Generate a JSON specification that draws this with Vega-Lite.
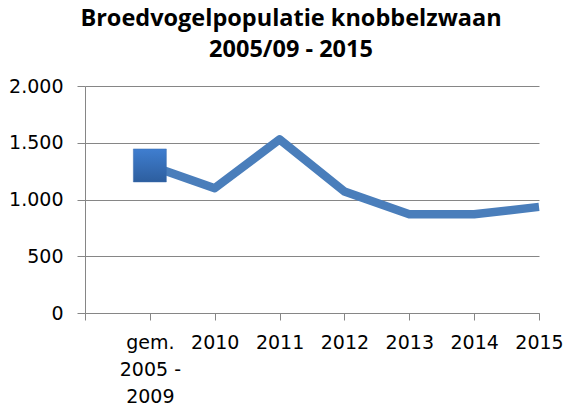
{
  "$schema": "https://vega.github.io/schema/vega-lite/v6.json",
  "autosize": "none",
  "width": 454,
  "height": 227,
  "padding": {"left": 85, "top": 86, "right": 29, "bottom": 101},
  "background": "white",
  "title": {
    "text": ["Broedvogelpopulatie knobbelzwaan", "2005/09 - 2015"],
    "font": "Open Sans",
    "fontSize": 23.5,
    "fontWeight": "bold",
    "color": "#000000",
    "anchor": "middle",
    "dx": -21,
    "lineHeight": 31,
    "offset": 16
  },
  "data": {
    "values": [
      {"cat": "gem. 2005 - 2009", "value": 1300},
      {"cat": "2010", "value": 1100},
      {"cat": "2011", "value": 1530},
      {"cat": "2012", "value": 1070},
      {"cat": "2013", "value": 870},
      {"cat": "2014", "value": 870},
      {"cat": "2015", "value": 935}
    ]
  },
  "encoding": {
    "x": {
      "field": "cat",
      "type": "ordinal",
      "sort": null,
      "scale": {"type": "point", "padding": 0, "domain": ["", "gem. 2005 - 2009", "2010", "2011", "2012", "2013", "2014", "2015"]},
      "axis": {
        "title": null,
        "labelAngle": 0,
        "labelExpr": "datum.value == 'gem. 2005 - 2009' ? ['gem.', '2005 -', '2009'] : datum.value",
        "labelFont": "DejaVu Sans",
        "labelFontSize": 19,
        "labelColor": "#000000",
        "labelLineHeight": 27,
        "labelPadding": 13,
        "labelOverlap": false,
        "labelBound": false,
        "labelFlush": false,
        "tickColor": "#868686",
        "tickSize": 7,
        "domainColor": "#868686",
        "grid": false
      }
    },
    "y": {
      "field": "value",
      "type": "quantitative",
      "scale": {"domain": [0, 2000], "nice": false},
      "axis": {
        "title": null,
        "values": [0, 500, 1000, 1500, 2000],
        "labelExpr": "replace(format(datum.value, ','), ',', '.')",
        "labelFont": "DejaVu Sans",
        "labelFontSize": 19,
        "labelColor": "#000000",
        "labelPadding": 14,
        "tickColor": "#868686",
        "tickSize": 8,
        "domainColor": "#868686",
        "gridColor": "#868686",
        "gridWidth": 1
      }
    }
  },
  "layer": [
    {
      "mark": {"type": "line", "color": "#4a7ebb", "strokeWidth": 8.5, "strokeJoin": "round", "strokeCap": "butt"}
    },
    {
      "transform": [{"filter": "datum.cat == 'gem. 2005 - 2009'"}],
      "mark": {
        "type": "point",
        "shape": "square",
        "size": 1089,
        "filled": true,
        "opacity": 1,
        "fill": {
          "gradient": "linear",
          "x1": 0, "y1": 0, "x2": 0, "y2": 1,
          "stops": [
            {"offset": 0, "color": "#3f7ed0"},
            {"offset": 1, "color": "#2d5e9e"}
          ]
        },
        "stroke": "#3a6cae",
        "strokeWidth": 0.5
      }
    }
  ],
  "config": {
    "view": {"stroke": null}
  }
}
